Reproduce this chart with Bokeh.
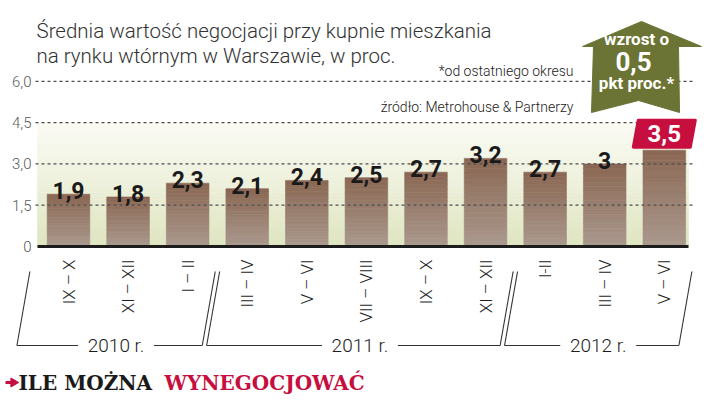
import math
from bokeh.plotting import figure
from bokeh.models import Range1d
from bokeh.core.properties import value
from bokeh.embed import file_html
from bokeh.resources import INLINE

# ---------------- data ----------------
periods = ["IX – X", "XI – XII", "I – II", "III – IV", "V – VI", "VII – VIII",
           "IX – X", "XI – XII", "I-II", "III – IV", "V – VI"]
years = [2010, 2010, 2010, 2011, 2011, 2011, 2011, 2011, 2012, 2012, 2012]
values = [1.9, 1.8, 2.3, 2.1, 2.4, 2.5, 2.7, 3.2, 2.7, 3.0, 3.5]
value_labels = ["1,9", "1,8", "2,3", "2,1", "2,4", "2,5", "2,7", "3,2", "2,7", "3", "3,5"]
ytick_vals = [0, 1.5, 3.0, 4.5, 6.0]
ytick_labels = ["0", "1,5", "3,0", "4,5", "6,0"]

title_lines = ["Średnia wartość negocjacji przy kupnie mieszkania",
               "na rynku wtórnym w Warszawie, w proc."]
note_lines = ["*od ostatniego okresu", "źródło: Metrohouse & Partnerzy"]
arrow_lines = ["wzrost o", "0,5", "pkt proc.*"]
heading = ["ILE MOŻNA", "WYNEGOCJOWAĆ"]

# ---------------- geometry helpers (image pixels -> data units) ----------------
W, H = 704, 396
OFF = 0
X0, STEP = 68.0, 59.58      # pixel centre of first bar, bar spacing
Y0, PPU = 246.0, 27.53       # pixel of value 0, pixels per unit


def ix(px):
    return (px - X0) / STEP


def iy(py):
    return (Y0 - py) / PPU


def dxp(px):
    return px / STEP


def dyp(py):
    return py / PPU


def lerp_hex(c1, c2, t):
    a = [int(c1[i:i + 2], 16) for i in (1, 3, 5)]
    b = [int(c2[i:i + 2], 16) for i in (1, 3, 5)]
    return "#%02x%02x%02x" % tuple(round(a[j] + (b[j] - a[j]) * t) for j in range(3))


LIGHT = value("Roboto Light")
BOLD = value("Roboto")
RED = "#c60f3f"

p = figure(width=W, height=H, output_backend="svg", toolbar_location=None,
           x_range=Range1d(ix(OFF), ix(OFF + W)), y_range=Range1d(iy(OFF + H), iy(OFF)),
           x_axis_location=None, y_axis_location=None, min_border=0)
p.grid.visible = False
p.outline_line_color = None
p.background_fill_color = "white"
p.border_fill_color = "white"

n_idx = list(range(len(values)))

# ---------------- background gradient (0 .. 4.5) ----------------
nb = 30
g_top = ytick_vals[-2]
bl, bt, bc = [], [], []
for k in range(nb):
    bl.append(g_top * k / nb)
    bt.append(g_top * (k + 1) / nb)
    bc.append(lerp_hex("#dfe5c0", "#fbfbf5", (k + 0.5) / nb))
p.quad(left=ix(37), right=ix(688), bottom=bl, top=bt, fill_color=bc, line_color=bc, line_width=0.6)

# ---------------- bars with vertical gradient ----------------
ns = 18
xs, bots, tops, cols = [], [], [], []
for i, v in enumerate(values):
    for k in range(ns):
        xs.append(i)
        bots.append(v * k / ns)
        tops.append(v * (k + 1) / ns)
        cols.append(lerp_hex("#aa998e", "#8a6753", (k + 0.5) / ns))
p.vbar(x=xs, bottom=bots, top=tops, width=0.715, fill_color=cols, line_color=cols, line_width=0.6)

# ---------------- grid lines & y labels ----------------
gv = [v for v in ytick_vals if v > 0]
p.segment(x0=[ix(35)] * len(gv), x1=[ix(692)] * len(gv), y0=gv, y1=gv,
          line_color="#4d4d4d", line_width=1.3, line_dash="3 3")
p.text(x=[ix(31)] * len(ytick_vals), y=ytick_vals, text=ytick_labels,
       text_align="right", text_baseline="middle", text_font=LIGHT,
       text_font_size="15px", text_color="#5a5a5a")

# baseline
p.segment(x0=[ix(37)], x1=[ix(688)], y0=[0], y1=[0], line_color="#1c1c1c", line_width=3)

# ---------------- value labels ----------------
p.text(x=n_idx[:-1], y=[v + dyp(3.5) for v in values[:-1]], text=value_labels[:-1],
       text_align="center", text_baseline="alphabetic", text_font=BOLD,
       text_font_style="bold", text_font_size="23px", text_color="#1a1a1a")

# highlighted last value in red slanted box
lv = values[-1]
li = n_idx[-1]
bb = lv + dyp(3)
bt2 = lv + dyp(30)
hw = dxp(28.5)
sl = dxp(2.5)
p.patch(x=[li - hw - sl, li + hw - sl, li + hw + sl, li - hw + sl],
        y=[bb, bb, bt2, bt2], fill_color=RED, line_color=RED,
        line_width=3, line_join="round")
p.text(x=[li], y=[(bb + bt2) / 2], text=[value_labels[-1]], text_align="center",
       text_baseline="middle", text_font=BOLD, text_font_style="bold",
       text_font_size="24px", text_color="white")

# ---------------- category labels (rotated) ----------------
p.text(x=n_idx, y=[iy(259)] * len(n_idx), text=periods, angle=math.pi / 2,
       text_align="right", text_baseline="middle", text_font=LIGHT,
       text_font_size="17px", text_color="#1e1e1e")

# ---------------- year brackets ----------------
groups = []
for i, yv in enumerate(years):
    if groups and groups[-1][0] == yv:
        groups[-1][2] = i
    else:
        groups.append([yv, i, i])

gap = dxp(2.2)
slant = dxp(13)
outer = dxp(11)
y_top, y_bot = iy(271), iy(345)
half_lab = dxp(38)
sx0, sx1, sy0, sy1 = [], [], [], []
lab_x, lab_t = [], []
for gi, (yv, a, b) in enumerate(groups):
    tl = a - 0.5 + gap - (outer if gi == 0 else 0)
    tr = b + 0.5 - gap
    cx = (tl + tr) / 2 - slant / 2
    segs = [((tl, y_top), (tl - slant, y_bot)),
            ((tl - slant, y_bot), (cx - half_lab, y_bot)),
            ((cx + half_lab, y_bot), (tr - slant, y_bot)),
            ((tr - slant, y_bot), (tr, y_top))]
    for (x_a, y_a), (x_b, y_b) in segs:
        sx0.append(x_a); sy0.append(y_a); sx1.append(x_b); sy1.append(y_b)
    lab_x.append(cx)
    lab_t.append("%d r." % yv)
p.segment(x0=sx0, y0=sy0, x1=sx1, y1=sy1, line_color="#333333", line_width=1.1)
p.text(x=lab_x, y=[y_bot] * len(lab_x), text=lab_t, text_align="center",
       text_baseline="middle", text_font=LIGHT, text_font_size="19px", text_color="#1e1e1e")

# ---------------- titles & notes ----------------
p.text(x=[ix(36), ix(36)], y=[iy(30), iy(55)], text=title_lines, text_align="left",
       text_baseline="alphabetic", text_font=LIGHT, text_font_size="20.5px", text_color="#333333")
p.text(x=[ix(573), ix(573)], y=[iy(70), iy(106)], text=note_lines, text_align="right",
       text_baseline="middle", text_font=LIGHT, text_font_size="14px", text_color="#222222")

# ---------------- green arrow ----------------
arrow_px = [(641, 21), (701, 46), (678, 46), (679, 112), (638, 100), (591, 112), (593, 46), (582, 46)]
p.patch(x=[ix(a) for a, _ in arrow_px], y=[iy(b) for _, b in arrow_px],
        fill_color="#6b7434", line_color="#6b7434")
p.text(x=[ix(636)], y=[iy(38)], text=[arrow_lines[0]], text_align="center", text_baseline="middle",
       text_font=BOLD, text_font_style="bold", text_font_size="17px", text_color="white")
p.text(x=[ix(633)], y=[iy(61)], text=[arrow_lines[1]], text_align="center", text_baseline="middle",
       text_font=BOLD, text_font_style="bold", text_font_size="26px", text_color="white")
p.text(x=[ix(636)], y=[iy(82)], text=[arrow_lines[2]], text_align="center", text_baseline="middle",
       text_font=BOLD, text_font_style="bold", text_font_size="17px", text_color="white")

# ---------------- bottom heading ----------------
hy = 382
p.segment(x0=[ix(5)], x1=[ix(11)], y0=[iy(hy)], y1=[iy(hy)], line_color=RED, line_width=3)
p.scatter(x=[ix(13)], y=[iy(hy)], marker="triangle", angle=-math.pi / 2, size=9,
          fill_color=RED, line_color=RED)
p.text(x=[ix(18)], y=[iy(hy)], text=[heading[0]], text_align="left", text_baseline="middle",
       text_font=value("DejaVu Serif"), text_font_style="bold", text_font_size="20px",
       text_color="#1a1a1a")
p.text(x=[ix(164)], y=[iy(hy)], text=[heading[1]], text_align="left", text_baseline="middle",
       text_font=value("DejaVu Serif"), text_font_style="bold", text_font_size="20px",
       text_color=RED)

open("out.html", "w").write(file_html(p, INLINE))
